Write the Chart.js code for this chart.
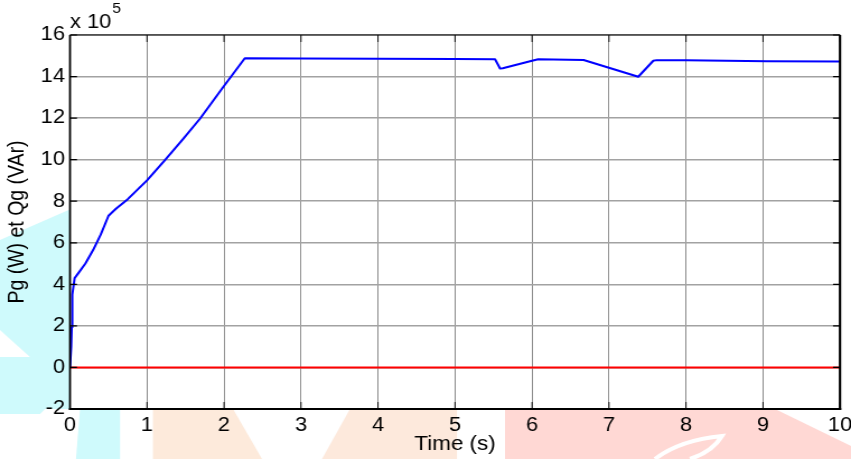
<!DOCTYPE html>
<html>
<head>
<meta charset="utf-8">
<script src="https://cdn.jsdelivr.net/npm/chart.js@4.4.1/dist/chart.umd.min.js"></script>
<style>
  html, body { margin: 0; padding: 0; background: #ffffff; overflow: hidden; }
  /* the figure is laid out on a 760px canvas and widened to 851px */
  #wrap { width: 760px; height: 459px; transform: scaleX(1.1197368); transform-origin: 0 0; }
  canvas { display: block; }
</style>
</head>
<body>
<div id="wrap"><canvas id="c" width="760" height="459"></canvas></div>
<script>
// Active power Pg of the generator (values in units of 10^5 W)
const timeS = [0, 0.015, 0.022, 0.03, 0.06, 0.13, 0.2, 0.3, 0.4, 0.5, 0.6, 0.75, 1.0, 1.23, 1.47, 1.69, 1.99, 2.27,
               3.0, 4.0, 5.0, 5.52, 5.585, 5.62, 6.0, 6.08, 6.67, 7.38, 7.575, 7.62, 8.0, 9.05, 10.0];
const pgValues = [0, 1.0, 1.94, 3.5, 4.3, 4.65, 5.0, 5.65, 6.4, 7.3, 7.65, 8.1, 9.0, 9.97, 11.0, 11.98, 13.5, 14.88,
                  14.87, 14.86, 14.84, 14.83, 14.39, 14.40, 14.76, 14.83, 14.80, 13.99, 14.76, 14.79, 14.79, 14.74, 14.72];

// Reactive power Qg, held at zero
const qgTime = [0, 10];
const qgValues = [0, 0];

// Axis ticks
const xTicks = [0, 1, 2, 3, 4, 5, 6, 7, 8, 9, 10];
const yTicks = [-2, 0, 2, 4, 6, 8, 10, 12, 14, 16];
const yExponent = 5;

const xTitle = 'Time (s)';
const yTitle = 'Pg (W) et Qg (VAr)';

const SX = 851 / 760;               // horizontal widening applied by CSS
const FONT = "'Liberation Sans', Arial, Helvetica, sans-serif";

const toPoints = (xs, ys) => xs.map((x, i) => ({ x: x, y: ys[i] }));

// Light logo shapes printed behind the figure (given in on-screen pixels)
const backdrop = {
  id: 'backdrop',
  beforeDraw(chart) {
    const ctx = chart.ctx;
    const poly = (pts, color) => {
      ctx.beginPath();
      pts.forEach((p, i) => {
        const x = p[0] / SX, y = p[1];
        if (i === 0) ctx.moveTo(x, y); else ctx.lineTo(x, y);
      });
      ctx.closePath();
      ctx.fillStyle = color;
      ctx.fill();
    };
    ctx.save();
    ctx.fillStyle = '#ffffff';
    ctx.fillRect(0, 0, chart.width, chart.height);
    poly([[0, 240], [80, 205], [80, 409], [45, 409], [40, 414], [0, 414]], '#cffafc');
    poly([[0, 330], [30, 357], [0, 357]], '#ffffff');
    poly([[80, 409], [120, 409], [120, 459], [76, 459]], '#cffafc');
    poly([[153, 409], [233, 409], [262, 459], [153, 459]], '#fdeadb');
    poly([[350, 409], [457, 409], [457, 459], [322, 459]], '#fde9dc');
    poly([[505, 409], [775, 409], [851, 446], [851, 459], [505, 459]], '#ffd8d4');
    // white swoosh inside the pink block
    ctx.strokeStyle = '#ffffff';
    ctx.lineWidth = 4;
    ctx.beginPath();
    ctx.moveTo(655 / SX, 459);
    ctx.quadraticCurveTo(680 / SX, 440, 722 / SX, 436);
    ctx.quadraticCurveTo(712 / SX, 452, 690 / SX, 459);
    ctx.stroke();
    // white plotting area
    const a = chart.chartArea;
    ctx.fillStyle = '#ffffff';
    ctx.fillRect(a.left, a.top, a.right - a.left, a.bottom - a.top);
    ctx.restore();
  }
};

// Axes box, inward tick marks and the exponent label
const frame = {
  id: 'frame',
  afterDatasetsDraw(chart) {
    const ctx = chart.ctx;
    const a = chart.chartArea;
    const xs = chart.scales.x, ys = chart.scales.y;
    ctx.save();
    ctx.strokeStyle = '#000000';
    ctx.lineCap = 'butt';
    // tick marks
    ctx.lineWidth = 1 / SX;
    xTicks.forEach(v => {
      const px = xs.getPixelForValue(v);
      ctx.beginPath();
      ctx.moveTo(px, a.bottom); ctx.lineTo(px, a.bottom - 7);
      ctx.moveTo(px, a.top); ctx.lineTo(px, a.top + 7);
      ctx.stroke();
    });
    ctx.lineWidth = 1.2;
    yTicks.forEach(v => {
      const py = ys.getPixelForValue(v);
      ctx.beginPath();
      ctx.moveTo(a.left, py); ctx.lineTo(a.left + 7 / SX, py);
      ctx.moveTo(a.right, py); ctx.lineTo(a.right - 7 / SX, py);
      ctx.stroke();
    });
    // box
    ctx.lineWidth = 1.2;
    ctx.beginPath(); ctx.moveTo(a.left, a.top); ctx.lineTo(a.right, a.top); ctx.stroke();
    ctx.lineWidth = 2;
    ctx.beginPath(); ctx.moveTo(a.left - 1 / SX, a.bottom); ctx.lineTo(a.right + 1.2 / SX, a.bottom); ctx.stroke();
    ctx.lineWidth = 2 / SX;
    ctx.beginPath(); ctx.moveTo(a.left, a.top); ctx.lineTo(a.left, a.bottom + 1); ctx.stroke();
    ctx.lineWidth = 2.4 / SX;
    ctx.beginPath(); ctx.moveTo(a.right, a.top); ctx.lineTo(a.right, a.bottom + 1); ctx.stroke();
    // exponent label "x 10^5"
    ctx.fillStyle = '#000000';
    ctx.textBaseline = 'alphabetic';
    ctx.textAlign = 'left';
    ctx.font = '19.5px ' + FONT;
    const base = 'x 10';
    ctx.fillText(base, a.left, 28);
    const w = ctx.measureText(base).width;
    ctx.font = '14px ' + FONT;
    ctx.fillText(String(yExponent), a.left + w + 1, 13);
    ctx.restore();
  }
};

new Chart(document.getElementById('c'), {
  type: 'line',
  data: {
    datasets: [
      {
        label: 'Pg',
        data: toPoints(timeS, pgValues),
        borderColor: '#0000ff',
        borderWidth: 2,
        pointRadius: 0,
        tension: 0,
        borderJoinStyle: 'round',
        fill: false
      },
      {
        label: 'Qg',
        data: toPoints(qgTime, qgValues),
        borderColor: '#ff0000',
        borderWidth: 2,
        pointRadius: 0,
        tension: 0,
        fill: false
      }
    ]
  },
  options: {
    responsive: false,
    animation: false,
    devicePixelRatio: 1,
    layout: { padding: { top: 35, right: 760 - 840 / SX, bottom: 0, left: 0 } },
    plugins: { legend: { display: false }, tooltip: { enabled: false } },
    scales: {
      x: {
        type: 'linear',
        min: 0,
        max: 10,
        afterBuildTicks: s => { s.ticks = xTicks.map(v => ({ value: v })); },
        afterFit: s => { s.height = 50; s.paddingLeft = 0; s.paddingRight = 0; },
        border: { display: false },
        grid: { color: '#808080', lineWidth: 1 / SX, drawTicks: false },
        ticks: {
          autoSkip: false,
          maxRotation: 0,
          padding: 4.5,
          color: '#000000',
          font: { family: FONT, size: 19.5 },
          callback: v => String(v)
        },
        title: {
          display: true,
          text: xTitle,
          color: '#000000',
          font: { family: FONT, size: 20 },
          padding: { top: 0, bottom: 2.3 }
        }
      },
      y: {
        type: 'linear',
        min: -2,
        max: 16,
        afterBuildTicks: s => { s.ticks = yTicks.map(v => ({ value: v })); },
        afterFit: s => { s.width = 70 / SX; s.paddingTop = 0; s.paddingBottom = 0; },
        border: { display: false },
        grid: { color: '#a2a2a2', lineWidth: 1.5, drawTicks: false },
        ticks: {
          autoSkip: false,
          padding: 4.5,
          color: '#000000',
          font: { family: FONT, size: 19.5 },
          callback: v => String(v)
        },
        title: {
          display: true,
          text: yTitle,
          color: '#000000',
          font: { family: FONT, size: 19.5 },
          padding: { top: 4, bottom: 0 }
        }
      }
    }
  },
  plugins: [backdrop, frame]
});
</script>
</body>
</html>
